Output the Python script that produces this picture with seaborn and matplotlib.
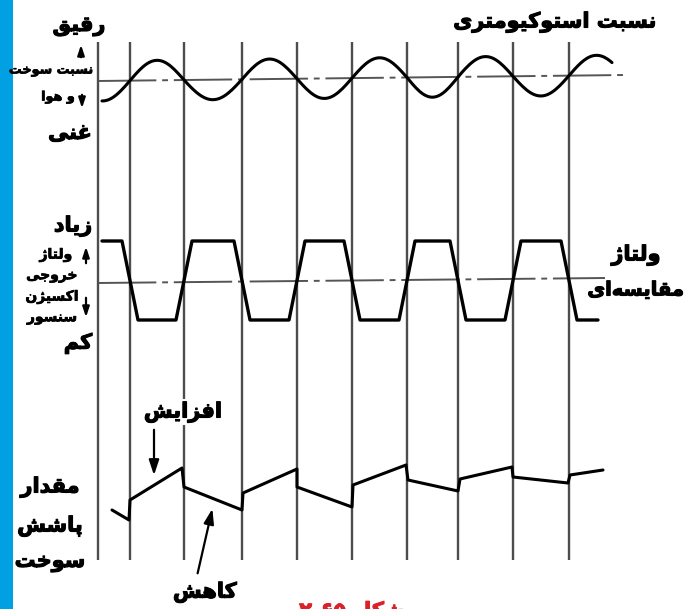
import numpy as np
import matplotlib
matplotlib.use('Agg')
import matplotlib.pyplot as plt
import matplotlib.patheffects as pe
import seaborn as sns

# ---- data (x in px along time, y in px from top) ----
tick_x = [98, 130, 184, 242, 297, 352, 407, 458, 513, 569]   # vertical time marks
cross_x = [130, 184, 242, 297, 352, 407, 458, 513, 569]      # switching instants

# fuel/air ratio (sine), start/end of trace
sine_start, sine_end = 102, 612
sine_amp = 20
ref_top = [81, 75]          # dash-dot stoichiometric line, left / right end
ref_top_x = [98, 625]

# O2 sensor voltage
volt_high, volt_low = 241, 320
volt_start, volt_end = 102, 598
ramp_half = 8
ref_mid = [283, 278]
ref_mid_x = [98, 605]

# injected fuel quantity (sawtooth)
saw_x = [112, 129, 130, 182, 184, 242, 243, 297, 297, 352, 353, 406, 408, 458, 460, 512, 513, 568, 570, 603]
saw_y = [510, 520, 500, 468, 487, 510, 493, 469, 487, 507, 485, 465, 480, 491, 479, 467, 477, 483, 475, 470]

# ---- minimal Arabic/Persian shaping (matplotlib has no RTL layout) ----
FORMS = {
    'ا': 'ﺍﺎ', 'د': 'ﺩﺪ', 'ر': 'ﺭﺮ', 'ز': 'ﺯﺰ', 'ژ': 'ﮊﮋ', 'و': 'ﻭﻮ',
    'ب': 'ﺏﺐﺑﺒ', 'ت': 'ﺕﺖﺗﺘ', 'ج': 'ﺝﺞﺟﺠ', 'خ': 'ﺥﺦﺧﺨ', 'س': 'ﺱﺲﺳﺴ',
    'ش': 'ﺵﺶﺷﺸ', 'غ': 'ﻍﻎﻏﻐ', 'ف': 'ﻑﻒﻓﻔ', 'ق': 'ﻕﻖﻗﻘ', 'ل': 'ﻝﻞﻟﻠ',
    'م': 'ﻡﻢﻣﻤ', 'ن': 'ﻥﻦﻧﻨ', 'ه': 'ﻩﻪﻫﻬ', 'پ': 'ﭖﭗﭘﭙ', 'ک': 'ﮎﮏﮐﮑ',
    'ی': 'ﯼﯽﯾﯿ',
}


def fa(text):
    out = []
    for i, c in enumerate(text):
        if c not in FORMS:
            out.append(c)
            continue
        prev = text[i - 1] if i > 0 else ''
        nxt = text[i + 1] if i + 1 < len(text) else ''
        jp = prev in FORMS and len(FORMS[prev]) == 4
        jn = len(FORMS[c]) == 4 and nxt in FORMS
        f = FORMS[c]
        if jp and jn:
            out.append(f[3])
        elif jp:
            out.append(f[1])
        elif jn:
            out.append(f[2])
        else:
            out.append(f[0])
    return ''.join(out).replace('\u200c', '')[::-1]


sns.set_style('white')
plt.rcParams['font.family'] = ['DejaVu Sans']

fig = plt.figure(figsize=(6.86, 6.09), dpi=100)
ax = fig.add_axes([0, 0, 1, 1])
ax.set_xlim(0, 686)
ax.set_ylim(609, 0)
ax.axis('off')

ax.axvspan(0, 13, color='#00a0e2', lw=0)

# vertical time marks
ax.vlines(tick_x, 42, 560, color='#4d4d4d', lw=1.7)

# dash-dot reference lines
ax.plot(ref_top_x, ref_top, color='#555555', lw=1.4, ls=(0, (30, 3, 3, 3)))
ax.plot(ref_mid_x, ref_mid, color='#555555', lw=1.4, ls=(0, (30, 3, 3, 3)))

# sine: half waves between the switching instants
half = np.mean(np.diff(cross_x))
edges = [sine_start] + cross_x + [sine_end]
sx, sy = [], []
for k in range(len(edges) - 1):
    a, b = edges[k], edges[k + 1]
    xs = np.linspace(a, b, 30)
    if k == 0:
        ph = (xs - cross_x[0]) / half * np.pi
    else:
        ph = (xs - edges[k]) / (b - a if k < len(edges) - 2 else half) * np.pi + (k - 1) * np.pi
    c = np.interp(xs, ref_top_x, ref_top)
    sx.extend(xs)
    sy.extend(c - sine_amp * np.sin(ph))
sns.lineplot(x=sx, y=sy, ax=ax, color='black', lw=2.2, estimator=None, sort=False)

# O2 sensor voltage trapezoids
vx, vy = [volt_start], [volt_high]
level = volt_high
for c in cross_x:
    other = volt_low if level == volt_high else volt_high
    vx += [c - ramp_half, c + ramp_half]
    vy += [level, other]
    level = other
vx.append(volt_end)
vy.append(level)
sns.lineplot(x=vx, y=vy, ax=ax, color='black', lw=2.4, estimator=None, sort=False)

# injection quantity
sns.lineplot(x=saw_x, y=saw_y, ax=ax, color='black', lw=2.2, estimator=None, sort=False)

# arrows
arw = dict(arrowstyle='-|>,head_length=0.9,head_width=0.3', color='black', lw=1.6)
ax.annotate('', xy=(154, 478), xytext=(154, 427), arrowprops=arw)
ax.annotate('', xy=(213, 506), xytext=(197, 576), arrowprops=arw)
small = dict(arrowstyle='-|>,head_length=0.6,head_width=0.2', color='black', lw=1.6)
ax.annotate('', xy=(81, 42), xytext=(81, 60), arrowprops=small)
ax.annotate('', xy=(82, 111), xytext=(82, 92), arrowprops=small)
ax.annotate('', xy=(86, 244), xytext=(86, 266), arrowprops=small)
ax.annotate('', xy=(86, 320), xytext=(86, 295), arrowprops=small)

heavy = [pe.withStroke(linewidth=0.8, foreground='black')]
light = [pe.withStroke(linewidth=0.5, foreground='black')]
big = dict(fontsize=15, fontweight='bold', ha='center', va='center', color='black',
           path_effects=heavy)
mid = dict(fontsize=10, fontweight='bold', ha='center', va='center', color='black',
           path_effects=light)
tiny = dict(fontsize=9.2, fontweight='bold', ha='center', va='center', color='black',
            path_effects=light)
ax.text(79, 26, fa('رقیق'), **big)
ax.text(51, 70, fa('نسبت سوخت'), **tiny)
ax.text(58, 97, fa('و هوا'), **tiny)
ax.text(70, 133, fa('غنی'), **big)
ax.text(555, 22, fa('نسبت استوکیومتری'), **big)
ax.text(73, 226, fa('زیاد'), **big)
ax.text(56, 255, fa('ولتاژ'), **mid)
ax.text(52, 276, fa('خروجی'), **mid)
ax.text(52, 297, fa('اکسیژن'), **mid)
ax.text(52, 318, fa('سنسور'), **mid)
ax.text(78, 343, fa('کم'), **big)
ax.text(636, 255, fa('ولتاژ'), **big)
ax.text(636, 290, fa('مقایسه‌ای'), fontsize=14, fontweight='bold', ha='center', va='center',
        color='black', path_effects=heavy)
ax.text(183, 412, fa('افزایش'), bbox=dict(fc='white', ec='none', pad=2), **big)
ax.text(50, 487, fa('مقدار'), **big)
ax.text(50, 526, fa('پاشش'), **big)
ax.text(50, 562, fa('سوخت'), **big)
ax.text(205, 592, fa('کاهش'), **big)
ax.text(352, 601, '۲-۶۵ ' + fa('شکل'), color='#d8232a', fontsize=15,
        fontweight='bold', ha='center', va='top',
        path_effects=[pe.withStroke(linewidth=0.8, foreground='#d8232a')])

fig.savefig('out.png', dpi=100)
